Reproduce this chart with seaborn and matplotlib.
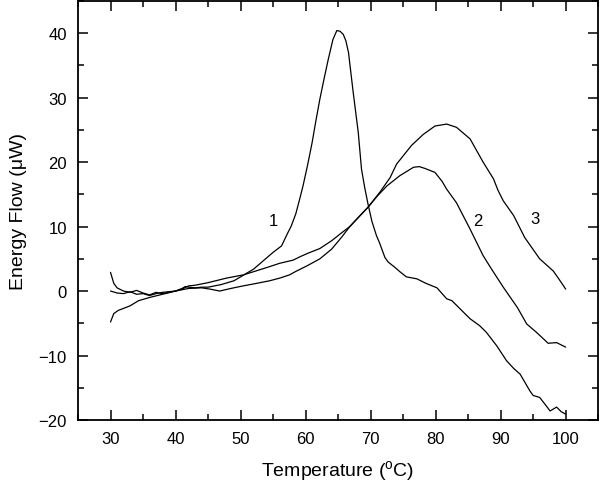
import seaborn as sns
import matplotlib.pyplot as plt
from matplotlib.ticker import MultipleLocator
import pandas as pd

# curve 1 - sharp peak near 65 C
t1 = [30, 30.5, 31, 32, 33, 34, 35, 36, 37, 38, 39, 40, 41, 41.5, 42, 43, 44, 45,
      46, 47, 48, 49, 50, 51, 52, 53.5, 55, 56.3, 57.3, 57.8, 58.5, 59.1, 59.6, 60.3,
      61, 61.6, 62.2, 62.9, 63.5, 64.2, 64.8, 65.3, 65.8, 66.2, 66.6, 67.3, 68.1,
      68.6, 69.1, 69.6, 70.2, 70.9, 71.4, 72.2, 72.7, 73.7, 74.5, 75.5, 77.1, 78.5,
      80.2, 81.7, 82.5, 84, 85.3, 86.8, 87.8, 89.4, 90.9, 92, 93, 94.5, 95, 96,
      97, 97.6, 98.6, 99.3, 100]
e1 = [2.9, 1.2, 0.5, 0.0, -0.2, 0.1, -0.3, -0.6, -0.2, -0.4, -0.2, 0.0, 0.4, 0.7, 0.6,
      0.5, 0.6, 0.6, 0.8, 1.0, 1.3, 1.6, 2.2, 2.8, 3.4, 4.7, 6.0, 7.0, 9.1, 10.1, 12.0,
      14.3, 16.3, 19.5, 23.0, 26.5, 29.8, 33.2, 36.0, 39.0, 40.4, 40.3, 39.8, 38.8, 37.0,
      31.0, 24.6, 18.9, 16.0, 13.5, 10.8, 8.6, 7.4, 5.2, 4.5, 3.7, 3.0, 2.2, 1.9, 1.2,
      0.5, -1.2, -1.5, -3.0, -4.3, -5.4, -6.4, -8.5, -10.8, -12.0, -12.9, -15.5, -16.2,
      -16.5, -17.8, -18.6, -18.0, -18.7, -19.1]

# curve 2 - medium peak near 77 C
t2 = [30, 31, 32, 33, 34, 35, 36, 37, 38, 40, 41, 42, 43, 45, 47.8, 50.4, 52, 54.2,
      56, 58.1, 59.1, 60.2, 62.2, 64, 65.5, 66.8, 68, 69.6, 71, 72.5, 74.5, 76.6, 77.5,
      78.4, 79.9, 81, 81.7, 83.2, 85.2, 87.3, 88.6, 90.4, 92.6, 94, 95.5, 97.3, 98.6, 100]
e2 = [0.0, -0.3, -0.4, -0.1, -0.5, -0.4, -0.7, -0.4, -0.2, 0.0, 0.3, 0.8, 0.9, 1.3,
      2.0, 2.5, 3.0, 3.7, 4.3, 4.8, 5.3, 5.8, 6.6, 7.8, 9.0, 10.0, 11.3, 13.0, 14.7, 16.3,
      17.9, 19.2, 19.3, 19.0, 18.4, 17.0, 15.8, 13.7, 9.8, 5.5, 3.4, 0.6, -2.6, -5.1,
      -6.4, -8.1, -8.0, -8.7]

# curve 3 - broad peak near 82 C
t3 = [30, 30.5, 31.2, 33, 34.3, 36, 38, 40, 42, 44, 45.3, 46.8, 48.5, 50.4, 52, 54.5,
      56, 57.5, 58.6, 60.2, 62.2, 64, 65.5, 66.8, 68, 69.6, 71.4, 73, 74, 76.3, 78.1,
      79.9, 81.7, 83.2, 85.3, 87.3, 88.9, 89.6, 90.4, 92, 93.7, 96, 98.1, 99, 100]
e3 = [-4.8, -3.5, -3.0, -2.3, -1.5, -1.0, -0.5, 0.0, 0.4, 0.5, 0.3, 0.0, 0.4, 0.8,
      1.1, 1.6, 2.0, 2.5, 3.1, 3.9, 5.0, 6.5, 8.3, 10.0, 11.3, 13.0, 15.3, 17.6, 19.7,
      22.6, 24.3, 25.6, 25.9, 25.4, 23.6, 20.0, 17.4, 15.6, 14.0, 11.7, 8.3, 5.0, 3.1,
      1.8, 0.3]

curve_labels = ["1", "2", "3"]
label_pos = [(55.1, 10.9), (86.5, 11.0), (95.3, 11.2)]

sns.set_theme(style="ticks", rc={'text.color': 'black', 'axes.labelcolor': 'black',
                                 'xtick.color': 'black', 'ytick.color': 'black',
                                 'axes.edgecolor': 'black'})
plt.rcParams['font.family'] = ['Liberation Sans', 'DejaVu Sans']
plt.rcParams['mathtext.fontset'] = 'custom'
plt.rcParams['mathtext.rm'] = 'Liberation Sans'

fig, ax = plt.subplots(figsize=(6, 4.85), dpi=100)
fig.subplots_adjust(left=0.13, right=0.997, bottom=0.132, top=0.996)

for t, e in zip([t1, t2, t3], [e1, e2, e3]):
    df = pd.DataFrame({'T': t, 'E': e})
    sns.lineplot(data=df, x='T', y='E', ax=ax, color='black', lw=0.9, sort=False)

for lab, (x, y) in zip(curve_labels, label_pos):
    ax.text(x, y, lab, fontsize=12, ha='center', va='center')

ax.set_xlim(25, 105)
ax.set_ylim(-20, 45)
ax.xaxis.set_minor_locator(MultipleLocator(5))
ax.yaxis.set_minor_locator(MultipleLocator(5))
ax.set_xticks(range(30, 101, 10))
ax.set_yticks(range(-20, 41, 10))
ax.tick_params(which='both', direction='in', top=True, right=True, width=1.1, labelsize=12, pad=8)
ax.tick_params(which='major', length=7)
ax.tick_params(which='minor', length=4)
for s in ax.spines.values():
    s.set_linewidth(1.3)

ax.set_xlabel('Temperature ($^{\\rm o}$C)', fontsize=14, labelpad=9)
ax.set_ylabel('Energy Flow (\u03bcW)', fontsize=14, labelpad=8)

plt.savefig('out.png', dpi=100)
